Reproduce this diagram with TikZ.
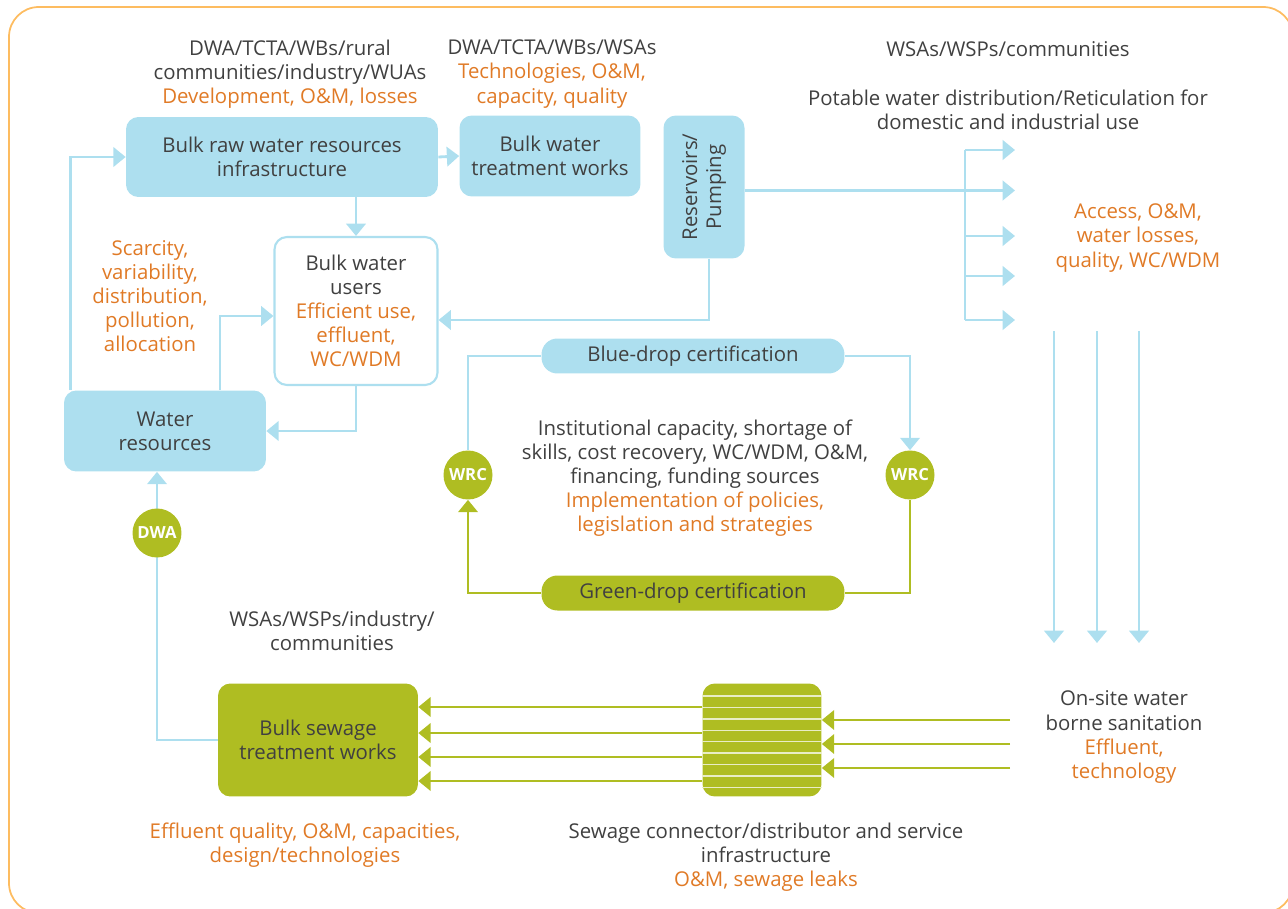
\documentclass[tikz,border=0pt]{standalone}
\usepackage{fontspec}
\setmainfont{Open Sans}
\usetikzlibrary{arrows.meta,positioning}
\definecolor{wblue}{RGB}{173,223,239}
\definecolor{wgreen}{RGB}{175,189,34}
\definecolor{worange}{RGB}{224,122,38}
\definecolor{wborder}{RGB}{253,188,96}
\definecolor{wtext}{RGB}{64,64,64}
\definecolor{wstripe}{RGB}{233,237,197}
\newcommand\concern[1]{\textcolor{worange}{#1}}

\begin{document}
\begin{tikzpicture}[
  x=0.02cm, y=-0.02cm,
  font=\fontsize{11.6}{13.7}\selectfont, text=wtext,
  box/.style={fill=wblue, rounded corners=7pt, align=center, inner sep=2pt},
  gbox/.style={box, fill=wgreen},
  userbox/.style={draw=wblue, line width=1.2pt, fill=white, rounded corners=7pt, align=center, inner sep=2pt},
  note/.style={align=center, inner sep=0pt},
  badge/.style={circle, fill=wgreen, text=white, inner sep=0pt, minimum size=0.98cm, font=\bfseries\fontsize{9.5}{11}\selectfont},
  bflow/.style={draw=wblue, line width=1.6pt, -{Triangle[length=7pt, width=11pt]}},
  bline/.style={draw=wblue, line width=1.6pt},
  gflow/.style={draw=wgreen, line width=1.6pt, -{Triangle[length=7pt, width=11pt]}},
  gline/.style={draw=wgreen, line width=1.6pt}
]
\useasboundingbox (0,0) rectangle (1288,909);
\draw[wborder, line width=1pt, rounded corners=17pt] (9,7) rectangle (1293,913);

% stakeholders and concerns
\node[note] (rawnote) at (290,74) {DWA/TCTA/WBs/rural\\communities/industry/WUAs\\\concern{Development, O\&M, losses}};
\node[note] (treatnote) at (552,74) {DWA/TCTA/WBs/WSAs\\\concern{Technologies, O\&M,}\\\concern{capacity, quality}};
\node[note] (distwho) at (1008,49) {WSAs/WSPs/communities};
\node[note] (distnote) at (1008,110) {Potable water distribution/Reticulation for\\domestic and industrial use};
\node[note] (access) at (1138,238) {\concern{Access, O\&M,}\\\concern{water losses,}\\\concern{quality, WC/WDM}};
\node[note] (scarcity) at (150,296) {\concern{Scarcity,}\\\concern{variability,}\\\concern{distribution,}\\\concern{pollution,}\\\concern{allocation}};
\node[note] (inst) at (695,478) {Institutional capacity, shortage of\\skills, cost recovery, WC/WDM, O\&M,\\financing, funding sources\\\concern{Implementation of policies,}\\\concern{legislation and strategies}};
\node[note] (sewwho) at (332,631) {WSAs/WSPs/industry/\\communities};
\node[note] (onsite) at (1124,737) {On-site water\\borne sanitation\\\concern{Effluent,}\\\concern{technology}};
\node[note] (sewnote) at (305,845) {\concern{Effluent quality, O\&M, capacities,}\\\concern{design/technologies}};
\node[note] (connnote) at (766,857) {Sewage connector/distributor and service\\infrastructure\\\concern{O\&M, sewage leaks}};

% boxes
\node[box, minimum width=6.24cm, minimum height=1.6cm] (raw) at (282,157) {Bulk raw water resources\\infrastructure};
\node[box, minimum width=3.62cm, minimum height=1.62cm] (treat) at (550,156) {Bulk water\\treatment works};
\node[box, minimum width=1.62cm, minimum height=2.86cm] (pump) at (704,187) {};
\node[rotate=90, align=center] (pumptext) at (pump) {Reservoirs/\\Pumping};
\node[userbox, minimum width=3.26cm, minimum height=2.96cm] (users) at (356,311) {Bulk water\\users\\\concern{Efficient use,}\\\concern{effluent,}\\\concern{WC/WDM}};
\node[box, minimum width=4.04cm, minimum height=1.62cm] (res) at (165,431) {Water\\resources};
\node[box, rounded corners=9pt, minimum width=6.06cm, minimum height=0.7cm] (bluedrop) at (693,356) {Blue-drop certification};
\node[gbox, rounded corners=9pt, minimum width=6.06cm, minimum height=0.7cm] (greendrop) at (693,593) {Green-drop certification};
\node[gbox, minimum width=4cm, minimum height=2.26cm] (sew) at (318,740) {Bulk sewage\\treatment works};
\node[gbox, minimum width=2.38cm, minimum height=2.26cm] (conn) at (762,740) {};
\foreach \y in {696,707.4,718.8,730.2,741.6,753,764.4,775.8,787.2}
  \draw[wstripe, line width=0.8pt] (conn.west |- 0,\y) -- (conn.east |- 0,\y);
\node[badge] (wrcL) at (468,475) {WRC};
\node[badge] (wrcR) at (910,475) {WRC};

% water flow
\draw[bflow] ([xshift=0.14cm]res.north west) |- (raw.west);
\draw[bflow] ([xshift=1.1cm]res.north) |- ([yshift=-0.1cm]users.west);
\draw[bflow] (users.north |- raw.south) -- (users.north);
\draw[bflow] (users.south) |- (res.east);
\draw[bflow] (raw.east) -- (treat.west);
\draw[bflow] ([xshift=0.1cm]pump.south) |- ([yshift=-0.18cm]users.east);
\coordinate (fork) at ([yshift=-0.07cm]pump.east -| 965,0);
\draw[bflow] ([yshift=-0.07cm]pump.east) -- (fork) -- ++(50,0);
\draw[bline] (965,150) -- (965,320);
\foreach \y in {150,236,276,320}
  \draw[bflow] (965,\y) -- (1015,\y);
\foreach \x in {1054,1097,1139}
  \draw[bflow] (\x,331) -- (\x,643);

% certification loop
\draw[bline] (bluedrop.west) -| (wrcL.north);
\draw[bflow] (bluedrop.east) -| (wrcR.north);
\draw[gline] (wrcR.south) |- (greendrop.east);
\draw[gflow] (greendrop.west) -| (wrcL.south);

% sewage flow
\foreach \y in {707,733,757,781}
  \draw[gflow] (conn.west |- 0,\y) -- (sew.east |- 0,\y);
\foreach \y in {720,744,768}
  \draw[gflow] (1010,\y) -- (conn.east |- 0,\y);
\draw[bflow] (sew.west) -| ([xshift=-0.16cm]res.south);
\node[badge] (dwa) at (157,533) {DWA};

\end{tikzpicture}
\end{document}
